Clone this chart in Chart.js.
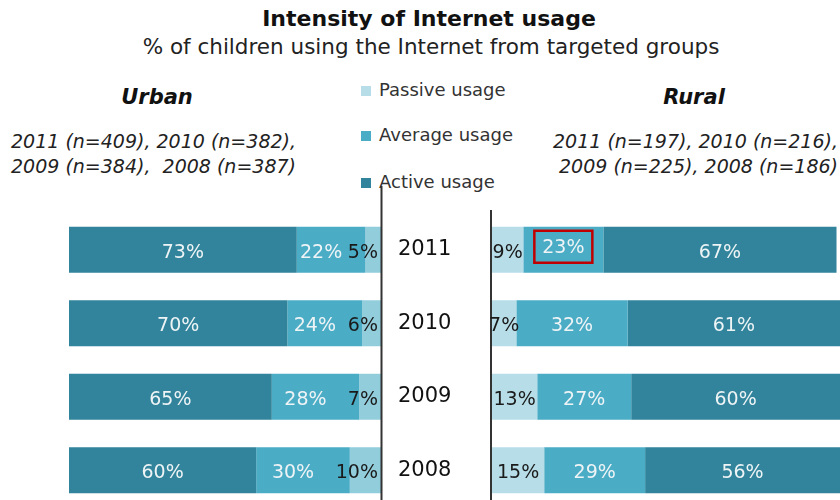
<!DOCTYPE html>
<html>
<head>
<meta charset="utf-8">
<script src="https://cdn.jsdelivr.net/npm/chart.js@4/dist/chart.umd.min.js"></script>
<style>
  html, body { margin:0; padding:0; background:#fff; overflow:hidden; width:840px; height:500px; }
  .abs { position:absolute; white-space:nowrap; font-family:"DejaVu Sans", Verdana, sans-serif; }
  canvas { position:absolute; left:0; top:0; }
</style>
</head>
<body>
<div id="title" class="abs" style="left:0;width:858px;text-align:center;top:6px;font-size:22px;font-weight:bold;color:#111;">Intensity of Internet usage</div>
<div id="subtitle" class="abs" style="left:0;width:862px;text-align:center;top:34px;font-size:21.5px;color:#222;">% of children using the Internet from targeted groups</div>
<div id="urbanHead" class="abs" style="left:57px;width:200px;text-align:center;top:85px;font-size:21px;font-weight:bold;font-style:italic;color:#111;"></div>
<div id="ruralHead" class="abs" style="left:594px;width:200px;text-align:center;top:85px;font-size:21px;font-weight:bold;font-style:italic;color:#111;"></div>
<div id="urbanN" class="abs" style="left:11px;top:129px;font-size:19px;font-style:italic;color:#222;line-height:25px;"></div>
<div id="ruralN" class="abs" style="right:2px;top:129px;font-size:19px;font-style:italic;color:#222;line-height:25px;text-align:right;"></div>
<div id="legend"></div>
<canvas id="urban" width="840" height="510"></canvas>
<canvas id="rural" width="840" height="510"></canvas>
<script>
const years = ['2011', '2010', '2009', '2008'];
const seriesNames = ['Passive usage', 'Average usage', 'Active usage'];
const urbanActive  = [73, 70, 65, 60];
const urbanAverage = [22, 24, 28, 30];
const urbanPassive = [5, 6, 7, 10];
const ruralPassive = [9, 7, 13, 15];
const ruralAverage = [23, 32, 27, 29];
const ruralActive  = [67, 61, 60, 56];
const urbanSample = [409, 382, 384, 387];
const ruralSample = [197, 216, 225, 186];
const groupNames = ['Urban', 'Rural'];

const colActive = '#31849b';
const colAverage = '#4bacc6';
const colPassiveU = '#92cddc';
const colPassiveR = '#b7dee8';

document.getElementById('urbanHead').textContent = groupNames[0];
document.getElementById('ruralHead').textContent = groupNames[1];
function nLines(sample, sep) {
  const p = years.map((y, i) => y + ' (n=' + sample[i] + ')');
  return p[0] + ', ' + p[1] + ',<br>' + p[2] + ',' + sep + p[3];
}
document.getElementById('urbanN').innerHTML = nLines(urbanSample, '&nbsp; ');
document.getElementById('ruralN').innerHTML = nLines(ruralSample, ' ');

const legendCols = [colPassiveR, colAverage, colActive];
const legendTops = [79, 124, 171];
const lg = document.getElementById('legend');
seriesNames.forEach((n, i) => {
  const sq = document.createElement('div');
  sq.style.cssText = 'position:absolute;left:361px;width:10px;height:10px;top:' + (legendTops[i] + 7) + 'px;background:' + legendCols[i];
  lg.appendChild(sq);
  const t = document.createElement('div');
  t.className = 'abs';
  t.style.cssText = 'left:379px;top:' + legendTops[i] + 'px;font-size:18px;color:#333;';
  t.textContent = n;
  lg.appendChild(t);
});

const FONT = '"DejaVu Sans", Verdana, sans-serif';

function labelPlugin(side) {
  return {
    id: 'labels_' + side,
    afterDatasetsDraw(chart) {
      const ctx = chart.ctx;
      const ca = chart.chartArea;
      ctx.save();
      ctx.strokeStyle = '#333';
      ctx.lineWidth = 2;
      ctx.beginPath();
      if (side === 'urban') {
        ctx.moveTo(ca.right + 0.5, ca.top - 27);
        ctx.lineTo(ca.right + 0.5, 510);
      } else {
        ctx.moveTo(ca.left - 1, ca.top - 3);
        ctx.lineTo(ca.left - 1, 510);
      }
      ctx.stroke();

      ctx.font = '19px ' + FONT;
      ctx.textBaseline = 'middle';
      chart.data.datasets.forEach((ds, di) => {
        const meta = chart.getDatasetMeta(di);
        meta.data.forEach((el, i) => {
          const l = Math.min(el.x, el.base), r = Math.min(Math.max(el.x, el.base), 840);
          const txt = ds.data[i] + '%';
          const kind = ds.kind;
          let x = (l + r) / 2, y = el.y + 3, align = 'center';
          ctx.fillStyle = kind === 'passive' ? '#1a1a1a' : '#eef4f6';
          if (side === 'urban') {
            if (kind === 'passive') { x = ca.right - 3; align = 'right'; }
            else if (kind === 'average') { x -= 10; }
          }
          const hl = (side === 'rural' && kind === 'average' && i === 0);
          if (hl) y -= 5;
          ctx.textAlign = align;
          ctx.fillText(txt, x, y);
          if (hl) {
            ctx.strokeStyle = '#c00000';
            ctx.lineWidth = 2.5;
            ctx.strokeRect(x - 29, y - 17, 58, 32);
          }
        });
      });
      ctx.restore();
    }
  };
}

const barCommon = { barPercentage: 0.626, categoryPercentage: 1, borderWidth: 0 };

new Chart(document.getElementById('urban'), {
  type: 'bar',
  data: {
    labels: years,
    datasets: [
      Object.assign({ label: seriesNames[2], data: urbanActive, backgroundColor: colActive, kind: 'active' }, barCommon),
      Object.assign({ label: seriesNames[1], data: urbanAverage, backgroundColor: colAverage, kind: 'average' }, barCommon),
      Object.assign({ label: seriesNames[0], data: urbanPassive, backgroundColor: colPassiveU, kind: 'passive' }, barCommon)
    ]
  },
  options: {
    indexAxis: 'y',
    responsive: false,
    animation: false,
    devicePixelRatio: 1,
    layout: { padding: { left: 69, right: 840 - 381 - 80, top: 213, bottom: 3 } },
    plugins: { legend: { display: false }, tooltip: { enabled: false }, title: { display: false } },
    scales: {
      x: { stacked: true, min: 0, max: 100, display: false },
      y: {
        stacked: true,
        position: 'right',
        grid: { display: false, drawTicks: false },
        border: { display: false },
        afterFit(s) { s.width = 80; s.paddingTop = 0; s.paddingBottom = 0; },
        ticks: { padding: 17, autoSkip: false, maxRotation: 0, color: '#111', font: { family: FONT, size: 21 } }
      }
    }
  },
  plugins: [labelPlugin('urban')]
});

new Chart(document.getElementById('rural'), {
  type: 'bar',
  data: {
    labels: years,
    datasets: [
      Object.assign({ label: seriesNames[0], data: ruralPassive, backgroundColor: colPassiveR, kind: 'passive' }, barCommon),
      Object.assign({ label: seriesNames[1], data: ruralAverage, backgroundColor: colAverage, kind: 'average' }, barCommon),
      Object.assign({ label: seriesNames[2], data: ruralActive, backgroundColor: colActive, kind: 'active' }, barCommon)
    ]
  },
  options: {
    indexAxis: 'y',
    responsive: false,
    animation: false,
    devicePixelRatio: 1,
    layout: { padding: { left: 492, right: 0, top: 213, bottom: 3 } },
    plugins: { legend: { display: false }, tooltip: { enabled: false }, title: { display: false } },
    scales: {
      x: { stacked: true, min: 0, max: 100, display: false },
      y: { stacked: true, display: false }
    }
  },
  plugins: [labelPlugin('rural')]
});
</script>
</body>
</html>
